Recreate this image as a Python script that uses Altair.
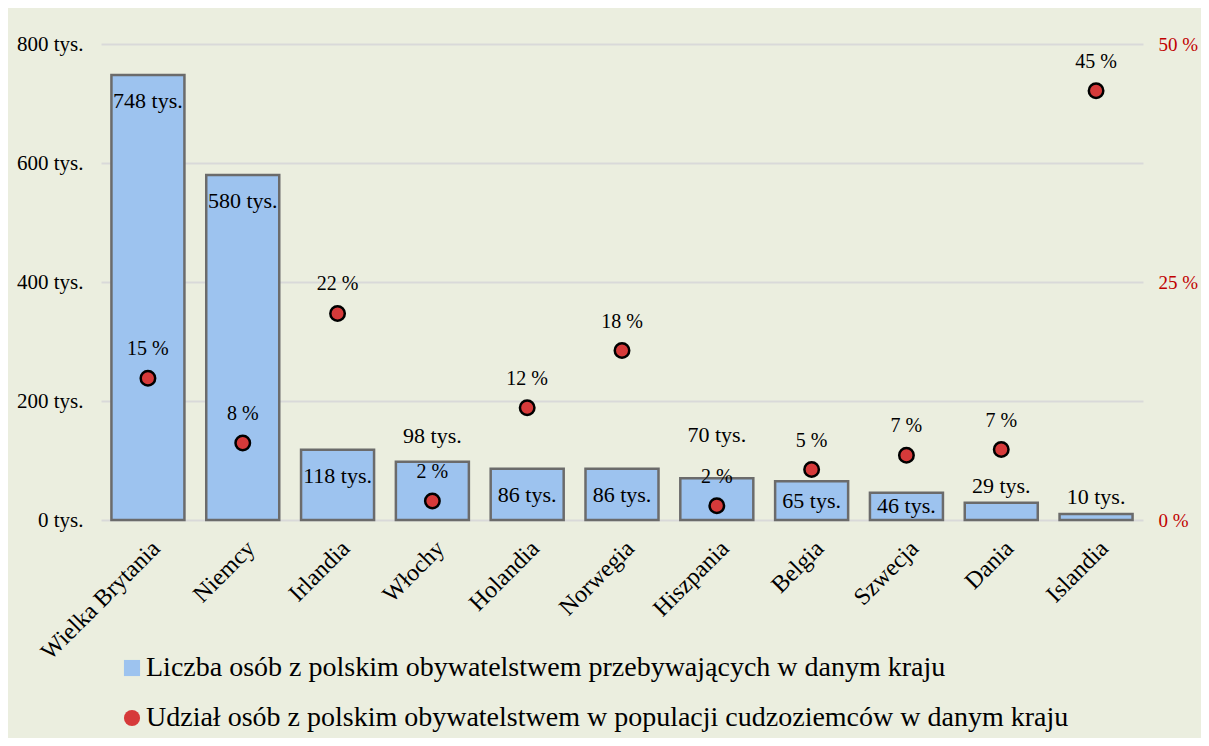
import altair as alt
import pandas as pd

countries = ["Wielka Brytania", "Niemcy", "Irlandia", "Włochy", "Holandia", "Norwegia",
             "Hiszpania", "Belgia", "Szwecja", "Dania", "Islandia"]
counts = [748, 580, 118, 98, 86, 86, 70, 65, 46, 29, 10]          # tys. osób
shares = [14.9, 8.1, 21.7, 2.0, 11.8, 17.8, 1.5, 5.3, 6.8, 7.4, 45.1]  # %
placement = ["top", "top", "top", "above", "top", "top", "far", "mid", "mid", "near", "near"]

S1 = "Liczba osób z polskim obywatelstwem przebywających w danym kraju"
S2 = "Udział osób z polskim obywatelstwem w populacji cudzoziemców w danym kraju"

df = pd.DataFrame({"country": countries, "count": counts, "share": shares, "place": placement})

FONT = "Liberation Serif"
BLUE = "#9dc3ef"
RED = "#d63a3a"

x = alt.X("country:N", sort=countries, title=None,
          scale=alt.Scale(paddingInner=0.23, paddingOuter=0.11),
          axis=alt.Axis(labelAngle=-45, labelFontSize=24, labelFont=FONT, labelColor="black",
                        labelPadding=16, ticks=False, domain=False, grid=False))

def make_legend():
    return alt.Legend(
        title=None, orient="none", legendX=17, legendY=610, direction="vertical",
        labelFont=FONT, labelFontSize=28, labelColor="black", labelLimit=1200,
        symbolSize=260, rowPadding=22, labelOffset=0,
        symbolStrokeColor="#222222", symbolStrokeWidth=2, symbolOpacity=1)

color = alt.Color("series:N", scale=alt.Scale(domain=[S1, S2], range=[BLUE, RED]),
                  legend=make_legend())
shape = alt.Shape("series:N", scale=alt.Scale(domain=[S1, S2], range=["square", "circle"]),
                  legend=make_legend())

yl = alt.Y("count:Q", title=None,
           scale=alt.Scale(domain=[0, 800], nice=False),
           axis=alt.Axis(values=[0, 200, 400, 600, 800], labelExpr="datum.value + ' tys.'",
                         labelFontSize=21, labelFont=FONT, labelColor="black", labelPadding=18,
                         ticks=False, domain=False, grid=True, gridColor="#d9d9d9", gridWidth=2))

base = alt.Chart(df)

bars = base.transform_calculate(series=f"'{S1}'").mark_bar(
    stroke="#6b6b6b", strokeWidth=2.5).encode(x=x, y=yl, color=color)

dy_map = {"top": 26, "above": -26, "far": -43, "near": -17}
bar_text_layers = []
for p, dy in dy_map.items():
    bar_text_layers.append(
        base.transform_filter(f"datum.place === '{p}'").transform_calculate(
            lbl="datum.count + ' tys.'").mark_text(
            font=FONT, fontSize=22, color="black", baseline="middle", dy=dy
        ).encode(x=x, y=alt.Y("count:Q", scale=alt.Scale(domain=[0, 800], nice=False)),
                 text=alt.Text("lbl:N"))
    )
bar_text_layers.append(
    base.transform_filter("datum.place === 'mid'").transform_calculate(
        half="datum.count / 2", lbl="datum.count + ' tys.'").mark_text(
        font=FONT, fontSize=22, color="black", baseline="middle"
    ).encode(x=x, y=alt.Y("half:Q", scale=alt.Scale(domain=[0, 800], nice=False)),
             text=alt.Text("lbl:N"))
)

left = alt.layer(bars, *bar_text_layers)

yr = alt.Y("share:Q", title=None, scale=alt.Scale(domain=[0, 50], nice=False),
           axis=alt.Axis(orient="right", values=[0, 25, 50], labelExpr="datum.value + ' %'",
                         labelFontSize=19, labelFont=FONT, labelColor="#c00000", labelPadding=15,
                         ticks=False, domain=False, grid=False))

points = base.transform_calculate(series=f"'{S2}'").mark_point(
    filled=True, size=210, stroke="black", strokeWidth=2.5, opacity=1
).encode(x=x, y=yr, color=color, shape=shape)

pct_text = base.transform_calculate(lbl="format(datum.share, '.0f') + ' %'").mark_text(
    font=FONT, fontSize=20, color="black", baseline="middle", dy=-29
).encode(x=x, y=alt.Y("share:Q", scale=alt.Scale(domain=[0, 50], nice=False)), text="lbl:N")

right = alt.layer(points, pct_text)

chart = alt.layer(left, right).resolve_scale(y="independent").properties(
    width=1042, height=476,
    autosize=alt.AutoSizeParams(type="none"),
    padding={"left": 93, "top": 36, "right": 58, "bottom": 218},
    background="#ebeedf",
).configure_view(stroke=None)

chart.save("out.html", embed_options={"renderer": "svg", "actions": False})
